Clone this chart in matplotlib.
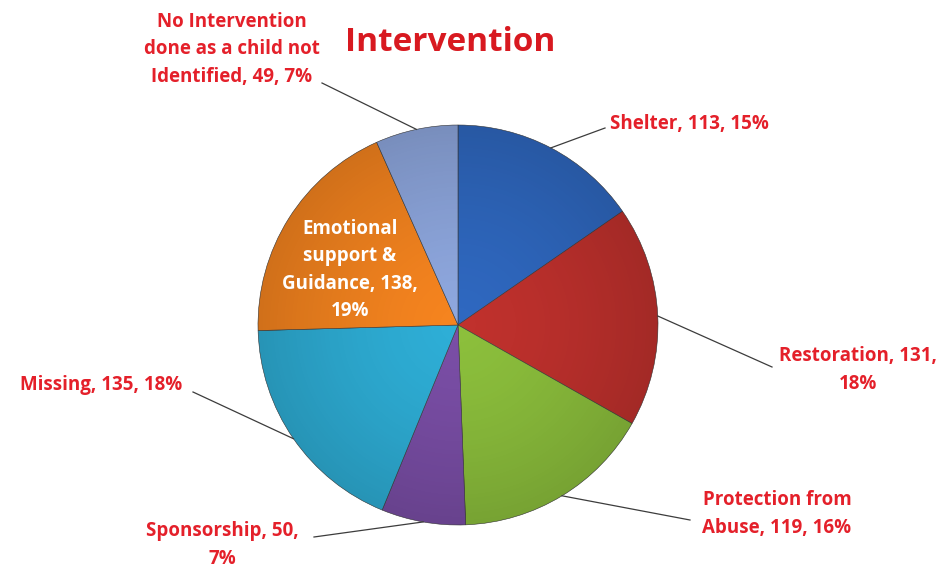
import numpy as np
import matplotlib
matplotlib.use("Agg")
import matplotlib.pyplot as plt

plt.rcParams['font.family'] = ['Open Sans', 'DejaVu Sans']

# data
cats = ['Shelter', 'Restoration', 'Protection from Abuse', 'Sponsorship',
        'Missing', 'Emotional support & Guidance',
        'No Intervention done as a child not Identified']
vals = [113, 131, 119, 50, 135, 138, 49]
colors = ['#2f68c0', '#c0312d', '#8cbf3c', '#7a4ea6', '#2eaed6', '#f5841f', '#8ea7de']

# label line breaks (same text, wrapped like the original)
wrap = [None, 'Restoration, {v},\n{p}%', 'Protection from\nAbuse, {v}, {p}%',
        'Sponsorship, {v},\n{p}%', None, 'Emotional\nsupport &\nGuidance, {v},\n{p}%',
        'No Intervention\ndone as a child not\nIdentified, {v}, {p}%']

W, H = 945, 574
fig = plt.figure(figsize=(W / 100, H / 100), dpi=100)
ax = fig.add_axes([0, 0, 1, 1])

cx, cy, R = 458, H - 325, 200
wedges, _ = ax.pie(vals, colors=colors, startangle=90, counterclock=False,
                   center=(cx, cy), radius=R,
                   wedgeprops=dict(edgecolor='#3a3a3a', linewidth=0.4))

# soft lighting over the pie
n = 400
xx, yy = np.meshgrid(np.linspace(-1, 1, n), np.linspace(-1, 1, n))
rr = np.sqrt(xx ** 2 + yy ** 2)
img = np.zeros((n, n, 4))
img[..., 3] = 0.15 * np.clip(rr, 0, 1) ** 1.5
im = ax.imshow(img, extent=(cx - R, cx + R, cy - R, cy + R), zorder=3)
circ = plt.Circle((cx, cy), R, transform=ax.transData)
im.set_clip_path(circ)

total = sum(vals)
red = '#e4202a'
# label text anchor (pixels), alignment, where leader ends
lab_pos = [(610, 124, 'left', (605, 128)),
           (858, 370, 'center', (772, 367)),
           (777, 514, 'center', (690, 520)),
           (222, 545, 'center', (314, 537)),
           (101, 385, 'center', (193, 392)),
           (350, 270, 'center', None),
           (232, 49, 'center', (322, 83))]

for i, w in enumerate(wedges):
    p = int(round(100 * vals[i] / total))
    if wrap[i] is None:
        txt = f'{cats[i]}, {vals[i]}, {p}%'
    else:
        txt = wrap[i].format(v=vals[i], p=p)
    x, y, ha, end = lab_pos[i]
    col = 'white' if end is None else red
    ax.text(x, H - y, txt, ha=ha, va='center', color=col, fontsize=13.5,
            fontweight='bold', linespacing=1.5, zorder=5)
    if end is not None:
        mid = np.deg2rad((w.theta1 + w.theta2) / 2)
        ex, ey = cx + R * np.cos(mid), cy + R * np.sin(mid)
        ax.plot([ex, end[0]], [ey, H - end[1]], color='#3c3c3c', lw=0.9, zorder=4)

ax.text(450, H - 42, 'Intervention', ha='center', va='center', color='#d81920',
        fontsize=24, fontweight='bold')

ax.set_xlim(0, W)
ax.set_ylim(0, H)
ax.set_aspect('equal')
ax.axis('off')
fig.savefig('out.png', dpi=100, facecolor='white')
